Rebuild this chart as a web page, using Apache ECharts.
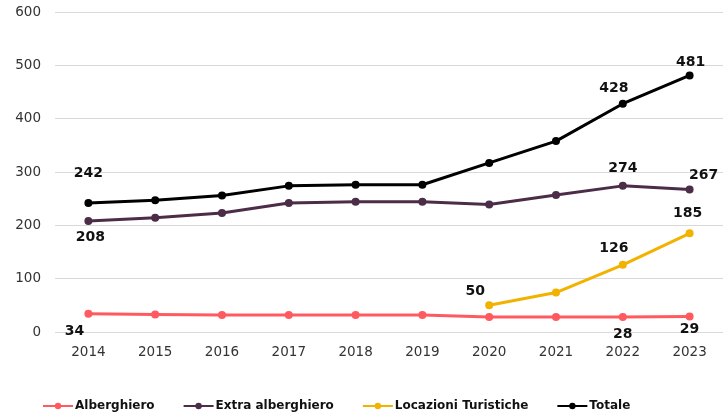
<!DOCTYPE html>
<html><head><meta charset="utf-8">
<script src="https://cdn.jsdelivr.net/npm/echarts@6/dist/echarts.min.js"></script>
<style>html,body{margin:0;padding:0;background:#fff}#c{width:723px;height:416px}</style>
</head><body><div id="c"></div>
<script>
const years = ['2014','2015','2016','2017','2018','2019','2020','2021','2022','2023'];
const alberghiero = [34, 33, 32, 32, 32, 32, 28, 28, 28, 29];
const extraAlberghiero = [208, 214, 223, 242, 244, 244, 239, 257, 274, 267];
const locazioni = [null, null, null, null, null, null, 50, 74, 126, 185];
const totale = [242, 247, 256, 274, 276, 276, 317, 358, 428, 481];
const yTicks = [0, 100, 200, 300, 400, 500, 600];

const lblFont = {fontFamily:'DejaVu Sans', fontWeight:'bold', fontSize:14, color:'#111'};
function lbl(v, offset){ return {value:v, label:Object.assign({show:true, position:'inside', offset:offset, formatter:'{c}'}, lblFont)}; }

function withLabels(arr, specs){
  return arr.map((v,i)=> specs[i] ? lbl(v, specs[i]) : v);
}

const chart = echarts.init(document.getElementById('c'));
chart.setOption({
  animation:false,
  grid:{left:55, right:0, top:12, bottom:84},
  legend:{
    top:400, left:42, padding:0, itemGap:28, itemWidth:30, itemHeight:8,
    textStyle:{fontFamily:'DejaVu Sans', fontWeight:'bold', fontSize:12, color:'#111', padding:[0,0,0,-3]},
    data:['Alberghiero','Extra alberghiero','Locazioni Turistiche','Totale']
  },
  xAxis:{
    type:'category', data:years, boundaryGap:true,
    axisLine:{show:false}, axisTick:{show:false},
    axisLabel:{fontFamily:'DejaVu Sans', fontSize:13.5, color:'#333', margin:13}
  },
  yAxis:{
    type:'value', min:yTicks[0], max:yTicks[yTicks.length-1], interval:100,
    axisLine:{show:false}, axisTick:{show:false},
    axisLabel:{fontFamily:'DejaVu Sans', fontSize:13.5, color:'#333', margin:14},
    splitLine:{lineStyle:{color:'#d9d9d9', width:1}}
  },
  series:[
    {name:'Alberghiero', type:'line', color:'#ff5a60', symbol:'circle', symbolSize:8,
     lineStyle:{width:3}, z:2,
     data:withLabels(alberghiero, {0:[-14,17], 8:[0,17], 9:[0,13]})},
    {name:'Extra alberghiero', type:'line', color:'#4b2d47', symbol:'circle', symbolSize:8,
     lineStyle:{width:3},
     data:withLabels(extraAlberghiero, {0:[2,16], 8:[0,-18], 9:[14,-14]})},
    {name:'Locazioni Turistiche', type:'line', color:'#f2b200', symbol:'circle', symbolSize:8,
     lineStyle:{width:3},
     data:withLabels(locazioni, {6:[-14,-14], 8:[-9,-16], 9:[-2,-20]})},
    {name:'Totale', type:'line', color:'#000000', symbol:'circle', symbolSize:8,
     lineStyle:{width:3},
     data:withLabels(totale, {0:[0,-30], 8:[-9,-15], 9:[1,-13]})}
  ]
});
</script></body></html>
